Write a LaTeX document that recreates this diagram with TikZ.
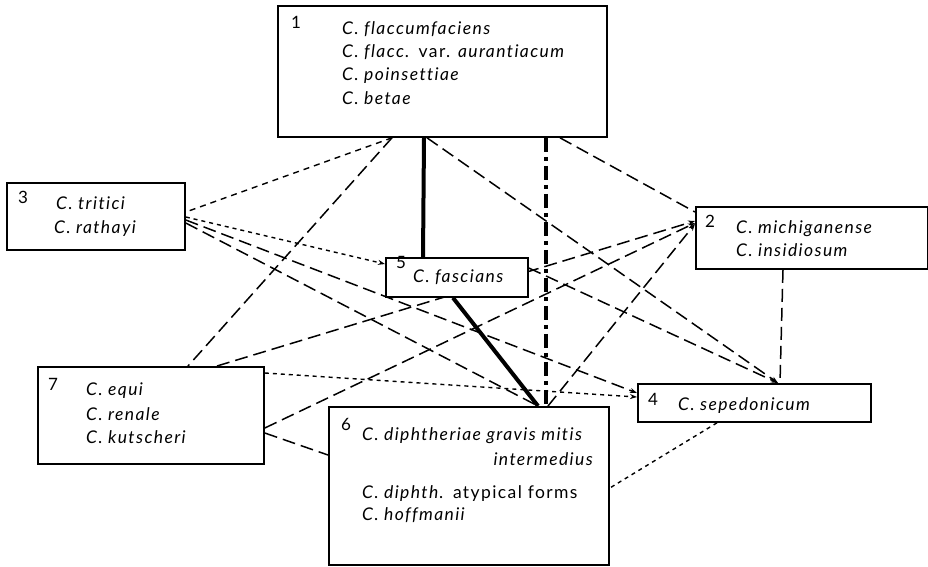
\documentclass[tikz,border=0pt]{standalone}
\usepackage{fontspec}
\setmainfont{Lato}[LetterSpace=8,Ligatures=NoCommon]
\usetikzlibrary{calc,arrows.meta}
\pgfdeclarelayer{bg}
\pgfsetlayers{bg,main}
\begin{document}
\begin{tikzpicture}[x=1pt,y=-1pt,
  box/.style={draw, line width=1.8pt, fill=white, inner sep=0pt, anchor=north west},
  lab/.style={inner sep=0pt, anchor=base west, font=\fontsize{17.5}{20}\selectfont},
  num/.style={inner sep=0pt, anchor=base west, font=\fontsize{17}{20}\selectfont},
  heavy/.style={line width=4pt},
  dashdotline/.style={line width=3.4pt, dash pattern=on 14pt off 5pt on 4pt off 5pt},
  longdash/.style={line width=1.5pt, dash pattern=on 13pt off 6pt},
  shortdash/.style={line width=1.4pt, dash pattern=on 6pt off 5pt},
  dotline/.style={line width=1.4pt, dash pattern=on 4pt off 4pt},
  tip/.style={-{Stealth[length=7pt,width=5pt]}}
]
\useasboundingbox (0,0) rectangle (928,566);
% boxes
\node[box, minimum width=329pt, minimum height=131pt] (b1) at (277,5) {};
\node[box, minimum width=178pt, minimum height=67pt] (b3) at (6,182) {};
\node[box, minimum width=232pt, minimum height=62pt] (b2) at (695,206) {};
\node[box, minimum width=142pt, minimum height=39pt] (b5) at (385,257) {};
\node[box, minimum width=233pt, minimum height=38pt] (b4) at (637,383) {};
\node[box, minimum width=226pt, minimum height=97pt] (b7) at (37,366) {};
\node[box, minimum width=280pt, minimum height=158pt] (b6) at (328,406) {};
% texts box 1
\node[num] (n1) at (291,28) {1};
\node[lab] (t1a) at (342,34) {\itshape C. flaccumfaciens};
\node[lab] (t1b) at (342,57) {\textit{C. flacc.} var. \textit{aurantiacum}};
\node[lab] (t1c) at (342,80) {\itshape C. poinsettiae};
\node[lab] (t1d) at (342,104) {\itshape C. betae};
% box 3
\node[num] (n3) at (18,203) {3};
\node[lab] (t3a) at (56,209) {\itshape C. tritici};
\node[lab] (t3b) at (54,233) {\itshape C. rathayi};
% box 2
\node[num] (n2) at (705,227) {2};
\node[lab] (t2a) at (736,233) {\itshape C. michiganense};
\node[lab] (t2b) at (736,256) {\itshape C. insidiosum};
% box 5
\node[num] (n5) at (396,268) {5};
\node[lab] (t5) at (413,282) {\itshape C. fascians};
% box 4
\node[num] (n4) at (648,405) {4};
\node[lab] (t4) at (678,410) {\itshape C. sepedonicum};
% box 7
\node[num] (n7) at (48,390) {7};
\node[lab] (t7a) at (86,395) {\itshape C. equi};
\node[lab] (t7b) at (86,420) {\itshape C. renale};
\node[lab] (t7c) at (86,443) {\itshape C. kutscheri};
% box 6
\node[num] (n6) at (341,430) {6};
\node[lab] (t6a) at (362,440) {\itshape C. diphtheriae gravis mitis};
\node[lab, anchor=base east] (t6b) at (593,465) {\itshape intermedius};
\node[lab] (t6c) at (362,498) {\textit{C. diphth.} atypical forms};
\node[lab] (t6d) at (362,520) {\itshape C. hoffmanii};
% connectors
\begin{pgfonlayer}{bg}
\draw[heavy] ($(b1.south west)+(147,0)$) -- ($(b5.north west)+(38,0)$);
\draw[heavy] ($(b5.south west)+(68,0)$) -- ($(b6.north west)+(210,0)$);
\draw[dashdotline] ($(b1.south west)+(269,0)$) -- ($(b6.north west)+(218,0)$);
\draw[longdash] ($(b1.south west)+(283,0)$) -- ($(b2.north west)+(0,6)$);
\draw[longdash,tip] ($(b1.south west)+(150,0)$) -- ($(b4.north west)+(141,0)$);
\draw[shortdash] ($(b1.south west)+(115,0)$) -- ($(b3.north east)+(0,30)$);
\draw[longdash] ($(b1.south west)+(115,0)$) -- ($(b7.north west)+(151,0)$);
\draw[dotline,tip] ($(b3.north east)+(0,35)$) -- ($(b5.north west)+(0,7)$);
\draw[longdash,tip] ($(b3.north east)+(0,38)$) -- ($(b4.north west)+(0,10)$);
\draw[longdash] ($(b3.north east)+(0,41)$) -- ($(b6.north west)+(210,0)$);
\draw[longdash,tip] ($(b7.north west)+(180,0)$) -- ($(b2.north west)+(0,15)$);
\draw[longdash,tip] ($(b7.north east)+(0,62)$) -- ($(b2.north west)+(0,17)$);
\draw[longdash,tip] ($(b6.north west)+(220,0)$) -- ($(b2.north west)+(0,18)$);
\draw[dotline,tip] ($(b7.north east)+(0,7)$) -- ($(b4.north west)+(0,14)$);
\draw[longdash] ($(b7.north east)+(0,67)$) -- ($(b6.north west)+(0,49)$);
\draw[longdash] ($(b2.south west)+(88,0)$) -- ($(b4.north west)+(143,0)$);
\draw[longdash,tip] ($(b5.north east)+(0,11)$) -- ($(b4.north west)+(141,0)$);
\draw[dotline] ($(b4.south west)+(80,0)$) -- ($(b6.north east)+(0,82)$);
\end{pgfonlayer}
\end{tikzpicture}
\end{document}
